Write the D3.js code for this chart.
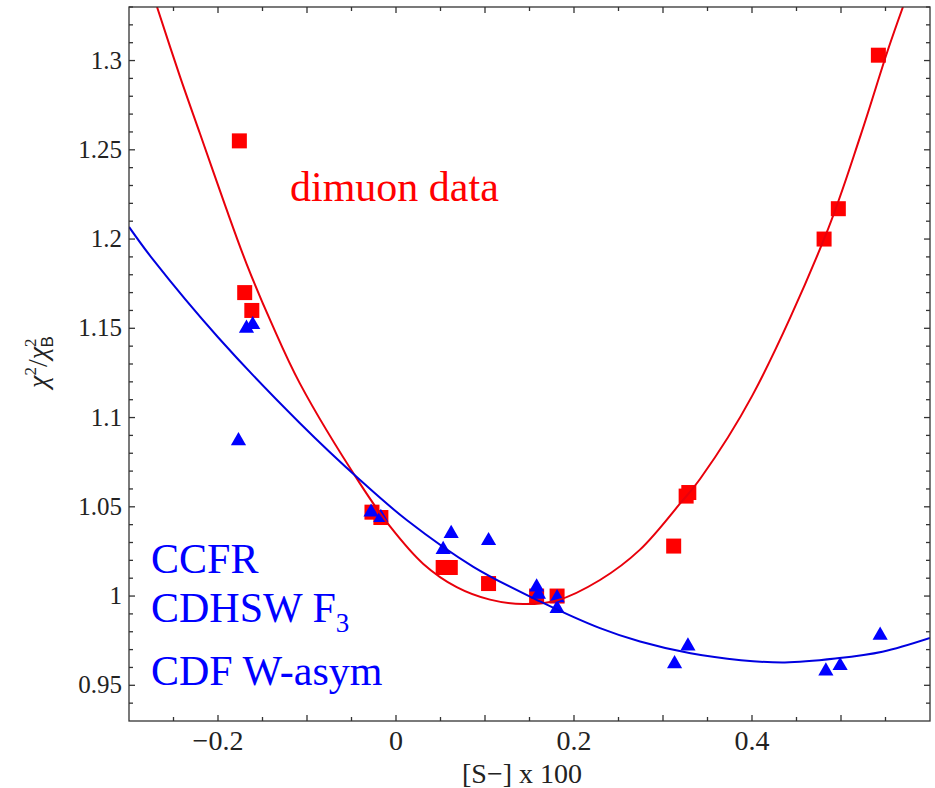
<!DOCTYPE html>
<html>
<head>
<meta charset="utf-8">
<script src="https://cdn.jsdelivr.net/npm/d3@7"></script>
<style>
  body { margin: 0; background: white; }
  text { font-family: "Liberation Serif", "Times New Roman", serif; }
</style>
</head>
<body>
<svg width="935" height="788"></svg>
<script>
// dimuon data (red squares)
var dimuonX = [-0.176, -0.170, -0.162, -0.027, -0.017, 0.053, 0.061, 0.104, 0.158, 0.181, 0.312, 0.326, 0.329, 0.481, 0.497, 0.542];
var dimuonY = [1.255, 1.170, 1.160, 1.047, 1.044, 1.016, 1.016, 1.007, 1.000, 1.000, 1.028, 1.056, 1.058, 1.200, 1.217, 1.303];

// CCFR / CDHSW / CDF (blue triangles)
var globalX = [-0.177, -0.168, -0.161, -0.028, -0.017, 0.053, 0.062, 0.104, 0.158, 0.160, 0.181, 0.181, 0.313, 0.328, 0.483, 0.499, 0.544];
var globalY = [1.087, 1.150, 1.152, 1.047, 1.044, 1.026, 1.035, 1.031, 1.005, 1.001, 0.999, 0.993, 0.962, 0.972, 0.958, 0.961, 0.978];

// fitted curves
var redFitX = [-0.2685, -0.2427, -0.2202, -0.1921, -0.1678, -0.14, -0.1079, -0.0404, -0.0067, 0.0307, 0.0682, 0.1056, 0.143, 0.1806, 0.2292, 0.2742, 0.3195, 0.3422, 0.40, 0.4826, 0.5223, 0.5525, 0.5696];
var redFitY = [1.33, 1.291, 1.259, 1.219, 1.186, 1.153, 1.119, 1.063, 1.039, 1.018, 1.005, 0.998, 0.9955, 0.9975, 1.009, 1.026, 1.052, 1.066, 1.112, 1.202, 1.2585, 1.3056, 1.33];

var blueFitX = [-0.30, -0.2727, -0.20, -0.1079, -0.0404, 0.012, 0.0869, 0.1618, 0.2292, 0.2742, 0.3309, 0.3876, 0.4369, 0.4936, 0.5465, 0.60];
var blueFitY = [1.2068, 1.1883, 1.145, 1.0968, 1.065, 1.0426, 1.0164, 0.9970, 0.9820, 0.9745, 0.9679, 0.9641, 0.9628, 0.9650, 0.9688, 0.9765];

var xLabels = [-0.2, 0, 0.2, 0.4];
var yLabels = [0.95, 1, 1.05, 1.1, 1.15, 1.2, 1.25, 1.3];

var xs = d3.scaleLinear().domain([-0.3, 0.6]).range([129, 930]);
var ys = d3.scaleLinear().domain([0.93, 1.33]).range([721, 7]);

var svg = d3.select("svg");

svg.append("clipPath").attr("id", "plot")
  .append("rect")
  .attr("x", 129).attr("y", 7)
  .attr("width", 801).attr("height", 714);

// markers
svg.append("g")
  .selectAll("rect")
  .data(dimuonX)
  .enter()
  .append("rect")
  .attr("x", function(d){ return xs(d) - 7.5 })
  .attr("y", function(d,i){ return ys(dimuonY[i]) - 7.5 })
  .attr("width", 15)
  .attr("height", 15)
  .attr("fill", "#f00");

var tri = d3.symbol().type(d3.symbolTriangle).size(100);
svg.append("g")
  .selectAll("path")
  .data(globalX)
  .enter()
  .append("path")
  .attr("d", tri)
  .attr("transform", function(d,i){ return "translate(" + xs(d) + "," + ys(globalY[i]) + ")" })
  .attr("fill", "#00f");

// fit curves
var line = d3.line()
  .x(function(d){ return xs(d[0]) })
  .y(function(d){ return ys(d[1]) })
  .curve(d3.curveCatmullRom);

svg.append("path")
  .datum(redFitX.map(function(x,i){ return [x, redFitY[i]] }))
  .attr("clip-path", "url(#plot)")
  .attr("d", line)
  .attr("fill", "none")
  .attr("stroke", "#e8000b")
  .attr("stroke-width", 2);

svg.append("path")
  .datum(blueFitX.map(function(x,i){ return [x, blueFitY[i]] }))
  .attr("clip-path", "url(#plot)")
  .attr("d", line)
  .attr("fill", "none")
  .attr("stroke", "#0000e0")
  .attr("stroke-width", 2);

// frame and ticks
var frame = svg.append("g").attr("stroke", "#333").attr("stroke-width", 1.3);
frame.append("rect")
  .attr("x", 129).attr("y", 7)
  .attr("width", 801).attr("height", 714)
  .attr("fill", "none");

var xt = d3.range(-0.25, 0.6, 0.05);
xt.forEach(function(v){
  var len = Math.abs(v * 10 - Math.round(v * 10)) < 1e-6 ? 6 : 4;
  frame.append("line").attr("x1", xs(v)).attr("x2", xs(v)).attr("y1", 721).attr("y2", 721 - len);
  frame.append("line").attr("x1", xs(v)).attr("x2", xs(v)).attr("y1", 7).attr("y2", 7 + len);
});
var yt = d3.range(0.94, 1.33, 0.01);
yt.forEach(function(v){
  var len = Math.abs(v * 20 - Math.round(v * 20)) < 1e-6 ? 6 : 4;
  frame.append("line").attr("y1", ys(v)).attr("y2", ys(v)).attr("x1", 129).attr("x2", 129 + len);
  frame.append("line").attr("y1", ys(v)).attr("y2", ys(v)).attr("x1", 930).attr("x2", 930 - len);
});

// tick labels
svg.append("g")
  .selectAll("text")
  .data(xLabels)
  .enter()
  .append("text")
  .attr("x", function(d){ return xs(d) })
  .attr("y", 750)
  .attr("text-anchor", "middle")
  .attr("font-size", 28)
  .attr("fill", "#222")
  .text(function(d){ return d < 0 ? "\u2212" + Math.abs(d) : d });

svg.append("g")
  .selectAll("text")
  .data(yLabels)
  .enter()
  .append("text")
  .attr("x", 122)
  .attr("y", function(d){ return ys(d) + 8 })
  .attr("text-anchor", "end")
  .attr("font-size", 25)
  .attr("fill", "#222")
  .text(function(d){ return d });

// axis titles
svg.append("text")
  .attr("x", 522)
  .attr("y", 783)
  .attr("text-anchor", "middle")
  .attr("font-size", 28)
  .attr("fill", "#222")
  .text("[S\u2212] x 100");

var yt1 = svg.append("text")
  .attr("transform", "translate(47,362)rotate(-90)")
  .attr("text-anchor", "middle")
  .attr("font-size", 28)
  .attr("fill", "#222");
yt1.append("tspan").attr("font-style", "italic").text("\u03c7");
yt1.append("tspan").attr("font-size", 17).attr("dy", -11).text("2");
yt1.append("tspan").attr("dy", 11).text("/");
yt1.append("tspan").attr("font-style", "italic").text("\u03c7");
yt1.append("tspan").attr("font-size", 17).attr("dy", -11).text("2");
yt1.append("tspan").attr("font-size", 17).attr("dx", -9).attr("dy", 17).attr("font-family", "Liberation Sans").text("B");

// legends
svg.append("text")
  .attr("x", 290).attr("y", 201)
  .attr("font-size", 42)
  .attr("fill", "#f00")
  .text("dimuon data");

var lg = svg.append("g").attr("fill", "#00f").attr("font-size", 42);
lg.append("text").attr("x", 151).attr("y", 573).text("CCFR");
var l2 = lg.append("text").attr("x", 151).attr("y", 622).text("CDHSW F");
l2.append("tspan").attr("font-size", 27).attr("dy", 10).text("3");
lg.append("text").attr("x", 151).attr("y", 685).text("CDF W-asym");
</script>
</body>
</html>
